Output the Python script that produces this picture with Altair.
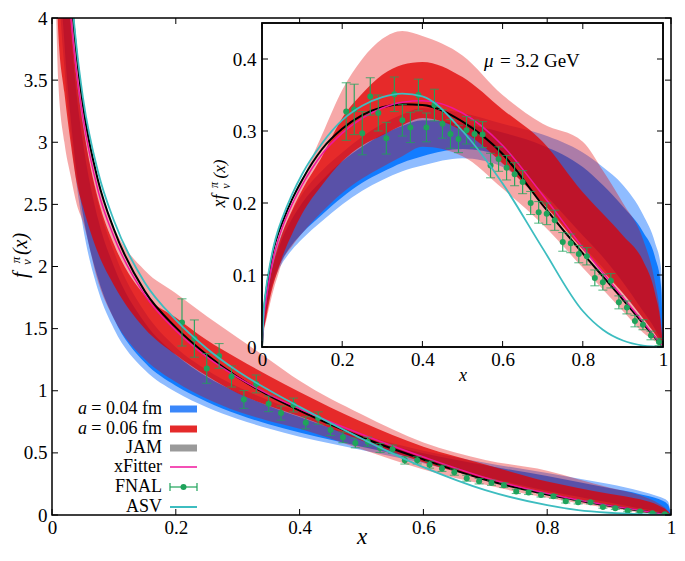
import altair as alt
import pandas as pd

# ---------------- data ----------------
X_MAIN = [0.005, 0.01, 0.02, 0.03, 0.04, 0.05, 0.075, 0.1, 0.15, 0.2, 0.25, 0.3,
          0.35, 0.4, 0.5, 0.6, 0.7, 0.8, 0.85, 0.9, 0.95, 0.98, 0.995, 1.0]
X_INSET = [0.0, 0.005, 0.01, 0.02, 0.03, 0.04, 0.05, 0.075, 0.1, 0.15, 0.2, 0.25, 0.3,
           0.35, 0.4, 0.5, 0.6, 0.7, 0.8, 0.85, 0.9, 0.95, 0.98, 0.995, 1.0]

# main panel f_v(x): a=0.04 fm (outer/inner), a=0.06 fm (outer/inner)
M_BO_LO = [5.6, 4.5, 3.6, 3.07, 2.65, 2.32, 1.8, 1.5, 1.167, 0.99, 0.868, 0.773, 0.697, 0.63, 0.524, 0.417, 0.286, 0.175, 0.129, 0.083, 0.042, 0.018, 0.005, 0]
M_BO_HI = [9.2, 6.8, 5.1, 4.167, 3.575, 3.16, 2.507, 2.12, 1.633, 1.35, 1.168, 1.033, 0.923, 0.83, 0.65, 0.517, 0.421, 0.338, 0.294, 0.25, 0.194, 0.148, 0.11, 0]
M_BI_LO = [6.0, 4.8, 3.8, 3.2, 2.75, 2.42, 1.893, 1.58, 1.227, 1.04, 0.912, 0.81, 0.731, 0.663, 0.55, 0.442, 0.307, 0.194, 0.147, 0.1, 0.053, 0.026, 0.008, 0]
M_BI_HI = [8.4, 6.2, 4.75, 3.933, 3.375, 3.0, 2.373, 2.0, 1.547, 1.29, 1.112, 0.983, 0.877, 0.788, 0.62, 0.497, 0.4, 0.313, 0.265, 0.217, 0.168, 0.128, 0.085, 0]
M_RO_LO = [4.4, 3.5, 3.0, 2.733, 2.5, 2.36, 1.867, 1.58, 1.253, 1.07, 0.936, 0.833, 0.757, 0.695, 0.53, 0.367, 0.243, 0.138, 0.094, 0.056, 0.021, 0.008, 0.002, 0]
M_RO_HI = [8.4, 6.4, 5.0, 4.267, 3.75, 3.34, 2.667, 2.32, 1.967, 1.785, 1.6, 1.427, 1.254, 1.08, 0.81, 0.583, 0.443, 0.356, 0.288, 0.222, 0.158, 0.092, 0.035, 0]
M_RI_LO = [5.2, 3.9, 3.4, 3.0, 2.675, 2.48, 2.1, 1.85, 1.5, 1.29, 1.12, 0.98, 0.88, 0.795, 0.6, 0.425, 0.286, 0.169, 0.124, 0.083, 0.042, 0.018, 0.005, 0]
M_RI_HI = [7.6, 5.8, 4.65, 4.0, 3.5, 3.14, 2.533, 2.18, 1.767, 1.59, 1.408, 1.26, 1.12, 0.99, 0.75, 0.55, 0.407, 0.269, 0.218, 0.172, 0.126, 0.077, 0.03, 0]
M_JAM = [9.0, 6.9, 5.1, 4.25, 3.7, 3.3, 2.68, 2.3, 1.8, 1.51, 1.29, 1.11, 0.963, 0.84, 0.626, 0.447, 0.283, 0.165, 0.117, 0.074, 0.035, 0.013, 0.003, 0]
M_XF = [8.4, 6.5, 4.9, 4.05, 3.55, 3.2, 2.6, 2.24, 1.77, 1.485, 1.272, 1.107, 0.971, 0.855, 0.65, 0.467, 0.301, 0.173, 0.121, 0.077, 0.037, 0.014, 0.004, 0]
M_ASV = [9.4, 7.1, 5.2, 4.3, 3.75, 3.36, 2.75, 2.37, 1.87, 1.57, 1.34, 1.157, 1.006, 0.87, 0.615, 0.385, 0.2, 0.08, 0.04, 0.018, 0.006, 0.002, 0, 0]

# inset x f_v(x)
I_BO_LO = [0, 0.028, 0.045, 0.072, 0.092, 0.106, 0.116, 0.135, 0.15, 0.175, 0.198, 0.217, 0.232, 0.244, 0.252, 0.262, 0.25, 0.2, 0.14, 0.11, 0.075, 0.04, 0.018, 0.005, 0]
I_BO_HI = [0, 0.046, 0.068, 0.102, 0.125, 0.143, 0.158, 0.188, 0.212, 0.245, 0.27, 0.292, 0.31, 0.323, 0.332, 0.325, 0.31, 0.295, 0.27, 0.25, 0.225, 0.184, 0.145, 0.11, 0]
I_BI_LO = [0, 0.03, 0.048, 0.076, 0.096, 0.11, 0.121, 0.142, 0.158, 0.184, 0.208, 0.228, 0.243, 0.256, 0.265, 0.275, 0.265, 0.215, 0.155, 0.125, 0.09, 0.05, 0.025, 0.008, 0]
I_BI_HI = [0, 0.042, 0.062, 0.095, 0.118, 0.135, 0.15, 0.178, 0.2, 0.232, 0.258, 0.278, 0.295, 0.307, 0.315, 0.31, 0.298, 0.28, 0.25, 0.225, 0.195, 0.16, 0.125, 0.085, 0]
I_RO_LO = [0, 0.022, 0.035, 0.06, 0.082, 0.1, 0.118, 0.14, 0.158, 0.188, 0.214, 0.234, 0.25, 0.265, 0.278, 0.265, 0.22, 0.17, 0.11, 0.08, 0.05, 0.02, 0.008, 0.002, 0]
I_RO_HI = [0, 0.042, 0.064, 0.1, 0.128, 0.15, 0.167, 0.2, 0.232, 0.295, 0.357, 0.4, 0.428, 0.439, 0.432, 0.405, 0.35, 0.31, 0.285, 0.245, 0.2, 0.15, 0.09, 0.035, 0]
I_RI_LO = [0, 0.026, 0.039, 0.068, 0.09, 0.107, 0.124, 0.157, 0.185, 0.225, 0.258, 0.28, 0.294, 0.308, 0.318, 0.3, 0.255, 0.2, 0.135, 0.105, 0.075, 0.04, 0.018, 0.005, 0]
I_RI_HI = [0, 0.038, 0.058, 0.093, 0.12, 0.14, 0.157, 0.19, 0.218, 0.265, 0.318, 0.352, 0.378, 0.392, 0.396, 0.375, 0.33, 0.285, 0.215, 0.185, 0.155, 0.12, 0.075, 0.03, 0]
I_JAM = [0, 0.05, 0.075, 0.11, 0.138, 0.157, 0.172, 0.205, 0.232, 0.275, 0.303, 0.322, 0.333, 0.337, 0.336, 0.313, 0.268, 0.197, 0.13, 0.098, 0.066, 0.033, 0.013, 0.003, 0]
I_XF = [0, 0.042, 0.065, 0.1, 0.128, 0.148, 0.165, 0.198, 0.225, 0.268, 0.297, 0.318, 0.332, 0.34, 0.342, 0.325, 0.28, 0.211, 0.138, 0.103, 0.069, 0.035, 0.014, 0.004, 0]
I_ASV = [0, 0.055, 0.08, 0.115, 0.142, 0.162, 0.178, 0.212, 0.24, 0.283, 0.315, 0.335, 0.347, 0.352, 0.348, 0.3, 0.227, 0.137, 0.05, 0.024, 0.009, 0.002, 0.0005, 0, 0]

# FNAL data
FNAL_X = [0.21, 0.23, 0.25, 0.27, 0.29, 0.31, 0.33, 0.35, 0.37, 0.39, 0.41, 0.43, 0.45, 0.47,
          0.49, 0.51, 0.53, 0.55, 0.57, 0.59, 0.61, 0.63, 0.65, 0.67, 0.69, 0.71, 0.73, 0.75,
          0.77, 0.79, 0.81, 0.83, 0.85, 0.87, 0.89, 0.91, 0.93, 0.95, 0.97, 0.99]
FNAL_F = [1.55, 1.42, 1.18, 1.28, 1.115, 0.93, 1.055, 0.895, 0.82, 0.885, 0.742, 0.78, 0.685, 0.625,
          0.58, 0.59, 0.54, 0.53, 0.44, 0.44, 0.405, 0.375, 0.345, 0.296, 0.272, 0.26, 0.24, 0.19,
          0.182, 0.16, 0.15, 0.11, 0.102, 0.102, 0.065, 0.055, 0.035, 0.028, 0.014, 0.006]
FNAL_FERR = [0.19, 0.15, 0.12, 0.10, 0.085, 0.072, 0.072, 0.063, 0.057, 0.056, 0.049, 0.05, 0.045, 0.043,
             0.039, 0.037, 0.036, 0.033, 0.03, 0.029, 0.028, 0.025, 0.025, 0.024, 0.022, 0.021, 0.019, 0.017,
             0.017, 0.015, 0.015, 0.013, 0.013, 0.011, 0.01, 0.01, 0.009, 0.007, 0.006, 0.005]
FNAL_XF = [0.327, 0.330, 0.297, 0.348, 0.325, 0.290, 0.351, 0.315, 0.305, 0.350, 0.305, 0.336, 0.310, 0.296,
           0.289, 0.301, 0.296, 0.295, 0.252, 0.261, 0.249, 0.240, 0.229, 0.200, 0.187, 0.185, 0.176, 0.146,
           0.144, 0.129, 0.126, 0.096, 0.090, 0.092, 0.062, 0.055, 0.036, 0.031, 0.016, 0.007]
FNAL_XFERR = [0.040, 0.035, 0.030, 0.026, 0.025, 0.022, 0.024, 0.022, 0.021, 0.022, 0.020, 0.022, 0.020, 0.020,
              0.019, 0.019, 0.019, 0.018, 0.017, 0.017, 0.017, 0.016, 0.016, 0.016, 0.015, 0.015, 0.014, 0.013,
              0.013, 0.012, 0.012, 0.011, 0.011, 0.010, 0.009, 0.009, 0.008, 0.007, 0.006, 0.005]

MAIN_XTICKS = [0, 0.2, 0.4, 0.6, 0.8, 1.0]
MAIN_YTICKS = [0, 0.5, 1, 1.5, 2, 2.5, 3, 3.5, 4]
INSET_XTICKS = [0, 0.2, 0.4, 0.6, 0.8, 1.0]
INSET_YTICKS = [0, 0.1, 0.2, 0.3, 0.4]

LEGEND_LABELS = ["= 0.04 fm", "= 0.06 fm", "JAM", "xFitter", "FNAL", "ASV"]

# ---------------- styling / layout ----------------
W, H = 619, 497
IX0, IX1 = 210, 611   # inset plot range (pixels inside main view)
IY0, IY1 = 329, 5
FONT = "Liberation Serif"
C_BO, C_BI = "#8fbcff", "#127cff"
C_RO, C_RI = "#e50000", "#e00000"
A_RO, A_RI = 0.34, 0.75
C_XF, C_ASV, C_FN = "#f0169c", "#3dbdc0", "#1fa35b"

main_xs = alt.Scale(domain=[0, 1], nice=False)
main_ys = alt.Scale(domain=[0, 4], nice=False)
ins_xs = alt.Scale(domain=[0, 1], nice=False, range=[IX0, IX1])
ins_ys = alt.Scale(domain=[0, 0.45], nice=False, range=[IY0, IY1])

MAIN_XAXIS = alt.Axis(values=MAIN_XTICKS, format="~g", ticks=False, tickSize=0, domain=False, grid=False,
                      labelFont=FONT, labelFontSize=19, labelPadding=3, labelFlush=False, labelColor="black",
                      title="x", titleFont=FONT, titleFontStyle="italic", titleFontWeight="normal",
                      titleFontSize=23, titleY=28, titleBaseline="alphabetic", titleColor="black")
MAIN_YAXIS = alt.Axis(values=MAIN_YTICKS, format="~g", ticks=False, tickSize=0, domain=False, grid=False,
                      labelFont=FONT, labelFontSize=19, labelPadding=5, labelColor="black", title=None)
INS_XAXIS = alt.Axis(orient="bottom", offset=-(H - IY0), values=INSET_XTICKS, format="~g", ticks=False,
                     tickSize=0, domain=False, grid=False, labelFont=FONT, labelFontSize=19, labelPadding=3,
                     labelFlush=False, labelColor="black", title="x", titleFont=FONT, titleFontStyle="italic",
                     titleFontWeight="normal", titleFontSize=18, titleY=33, titleBaseline="alphabetic",
                     titleColor="black", zindex=2)
INS_YAXIS = alt.Axis(orient="left", offset=-IX0, values=INSET_YTICKS, format="~g", ticks=False, tickSize=0,
                     domain=False, grid=False, labelFont=FONT, labelFontSize=19, labelPadding=6,
                     labelColor="black", title=None, zindex=2)


def mx(f="x"):
    return alt.X(f"{f}:Q", scale=main_xs, axis=MAIN_XAXIS)


def my(f):
    return alt.Y(f"{f}:Q", scale=main_ys, axis=MAIN_YAXIS)


def ix(f="x"):
    return alt.X(f"{f}:Q", scale=ins_xs, axis=INS_XAXIS)


def iy(f):
    return alt.Y(f"{f}:Q", scale=ins_ys, axis=INS_YAXIS)


ONE = pd.DataFrame({"d": [0]})


def band(xs, lo, hi, color, opacity, X, Y, clip):
    df = pd.DataFrame({"x": xs, "lo": lo, "hi": hi})
    return alt.Chart(df).mark_area(color=color, opacity=opacity, interpolate="monotone", clip=clip).encode(
        x=X(), y=Y("lo"), y2="hi:Q")


def curve(xs, ys, color, width, X, Y, clip):
    df = pd.DataFrame({"x": xs, "f": ys})
    return alt.Chart(df).mark_line(color=color, strokeWidth=width, interpolate="monotone", clip=clip).encode(
        x=X(), y=Y("f"))


def fnal(xs, vals, errs, X, Y, clip):
    df = pd.DataFrame({"x": xs, "f": vals, "e": errs})
    base = alt.Chart(df).transform_calculate(lo="datum.f - datum.e", hi="datum.f + datum.e")
    bars = base.mark_rule(color=C_FN, strokeWidth=1.1, clip=clip).encode(x=X(), y=Y("lo"), y2="hi:Q")
    cap1 = base.mark_tick(color=C_FN, orient="horizontal", size=9, thickness=1.1, clip=clip).encode(x=X(), y=Y("lo"))
    cap2 = base.mark_tick(color=C_FN, orient="horizontal", size=9, thickness=1.1, clip=clip).encode(x=X(), y=Y("hi"))
    pts = base.mark_circle(color=C_FN, size=36, opacity=1, clip=clip).encode(x=X(), y=Y("f"))
    return [bars, cap1, cap2, pts]


def txt(text, x, y, size=18, italic=False, align="left", angle=0):
    kw = dict(text=text, font=FONT, fontSize=size, color="black", align=align, baseline="middle")
    if italic:
        kw["fontStyle"] = "italic"
    if angle:
        kw["angle"] = angle
    return alt.Chart(ONE).mark_text(**kw).encode(x=alt.value(x), y=alt.value(y))


def hrule(x1, x2, y, color, width):
    return alt.Chart(ONE).mark_rule(color=color, strokeWidth=width).encode(
        x=alt.value(x1), x2=alt.value(x2), y=alt.value(y))


def vrule(x, y1, y2, color, width):
    return alt.Chart(ONE).mark_rule(color=color, strokeWidth=width).encode(
        x=alt.value(x), y=alt.value(y1), y2=alt.value(y2))


# ---------------- main panel ----------------
main_layers = [
    band(X_MAIN, M_BO_LO, M_BO_HI, C_BO, 1.0, mx, my, True),
    band(X_MAIN, M_BI_LO, M_BI_HI, C_BI, 1.0, mx, my, True),
    band(X_MAIN, M_RO_LO, M_RO_HI, C_RO, A_RO, mx, my, True),
    band(X_MAIN, M_RI_LO, M_RI_HI, C_RI, A_RI, mx, my, True),
    curve(X_MAIN, M_JAM, "black", 2, mx, my, True),
    curve(X_MAIN, M_XF, C_XF, 1.5, mx, my, True),
]
main_layers += fnal(FNAL_X, FNAL_F, FNAL_FERR, mx, my, True)
main_layers.append(curve(X_MAIN, M_ASV, C_ASV, 1.8, mx, my, True))

xt = pd.DataFrame({"x": MAIN_XTICKS})
yt = pd.DataFrame({"v": MAIN_YTICKS})
main_layers += [
    alt.Chart(xt).mark_rule(color="black").encode(x=mx(), y=alt.value(H), y2=alt.value(H - 6)),
    alt.Chart(xt).mark_rule(color="black").encode(x=mx(), y=alt.value(0), y2=alt.value(6)),
    alt.Chart(yt).mark_rule(color="black").encode(y=my("v"), x=alt.value(0), x2=alt.value(6)),
    alt.Chart(yt).mark_rule(color="black").encode(y=my("v"), x=alt.value(W), x2=alt.value(W - 6)),
    alt.Chart(ONE).mark_rect(fill="transparent", stroke="black", strokeWidth=1.5).encode(
        x=alt.value(0), x2=alt.value(W), y=alt.value(0), y2=alt.value(H)),
]

# legend
rows = [391, 411, 430, 449, 469, 489]
LX0, LX1, LT = 118, 145, 110
for lab, ry in zip(LEGEND_LABELS, rows):
    main_layers.append(txt(lab, LT, ry, size=18, align="right"))
main_layers.append(txt("a", 26, rows[0], size=18, italic=True))
main_layers.append(txt("a", 26, rows[1], size=18, italic=True))
main_layers += [
    hrule(LX0, LX1, rows[0], "#3a87fa", 7),
    hrule(LX0, LX1, rows[1], "#e52a2a", 7),
    hrule(LX0, LX1, rows[2], "#9a9a9a", 7),
    hrule(LX0, LX1, rows[3], C_XF, 1.5),
    hrule(LX0, LX1, rows[4], C_FN, 1.2),
    vrule(LX0, rows[4] - 4, rows[4] + 4, C_FN, 1.2),
    vrule(LX1, rows[4] - 4, rows[4] + 4, C_FN, 1.2),
    alt.Chart(ONE).mark_circle(color=C_FN, size=36, opacity=1).encode(
        x=alt.value((LX0 + LX1) / 2), y=alt.value(rows[4])),
    hrule(LX0, LX1, rows[5], C_ASV, 2),
]

# main y title  f_v^pi(x)
main_layers += [
    txt("f", -31, 257, size=21, italic=True, align="center", angle=270),
    txt("π", -36, 242, size=13, italic=True, align="center", angle=270),
    txt("v", -25, 244, size=13, italic=True, align="center", angle=270),
    txt("(x)", -31, 226, size=20, italic=True, align="center", angle=270),
]

main = alt.layer(*main_layers)

# ---------------- inset ----------------
frame_df = pd.DataFrame({"x": [0.0], "x1": [1.0], "y0": [0.0], "y1": [0.45]})
ins_layers = [
    alt.Chart(frame_df).mark_rect(fill="white", stroke="black", strokeWidth=1.5).encode(
        x=ix(), x2="x1:Q", y=iy("y0"), y2="y1:Q"),
    band(X_INSET, I_BO_LO, I_BO_HI, C_BO, 1.0, ix, iy, False),
    band(X_INSET, I_BI_LO, I_BI_HI, C_BI, 1.0, ix, iy, False),
    band(X_INSET, I_RO_LO, I_RO_HI, C_RO, A_RO, ix, iy, False),
    band(X_INSET, I_RI_LO, I_RI_HI, C_RI, A_RI, ix, iy, False),
    curve(X_INSET, I_JAM, "black", 2, ix, iy, False),
    curve(X_INSET, I_XF, C_XF, 1.5, ix, iy, False),
]
ins_layers += fnal(FNAL_X, FNAL_XF, FNAL_XFERR, ix, iy, False)
ins_layers.append(curve(X_INSET, I_ASV, C_ASV, 1.8, ix, iy, False))

ixt = pd.DataFrame({"x": INSET_XTICKS})
iyt = pd.DataFrame({"v": INSET_YTICKS})
ins_layers += [
    alt.Chart(ixt).mark_rule(color="black").encode(x=ix(), y=alt.value(IY0), y2=alt.value(IY0 - 6)),
    alt.Chart(ixt).mark_rule(color="black").encode(x=ix(), y=alt.value(IY1), y2=alt.value(IY1 + 6)),
    alt.Chart(iyt).mark_rule(color="black").encode(y=iy("v"), x=alt.value(IX0), x2=alt.value(IX0 + 6)),
    alt.Chart(iyt).mark_rule(color="black").encode(y=iy("v"), x=alt.value(IX1), x2=alt.value(IX1 - 6)),
    alt.Chart(frame_df).mark_rect(fill="transparent", stroke="black", strokeWidth=1.5).encode(
        x=ix(), x2="x1:Q", y=iy("y0"), y2="y1:Q"),
    txt("μ", 432, 43, size=19, italic=True),
    txt("= 3.2 GeV", 448, 43, size=19),
    txt("xf", 168, 183, size=18, italic=True, align="center", angle=270),
    txt("π", 162, 167, size=12, italic=True, align="center", angle=270),
    txt("v", 174, 168, size=12, italic=True, align="center", angle=270),
    txt("(x)", 168, 151, size=17, italic=True, align="center", angle=270),
]
inset = alt.layer(*ins_layers)

chart = alt.layer(main, inset).resolve_scale(x="independent", y="independent").properties(
    width=W, height=H,
    padding={"left": 44, "top": 10, "right": 6, "bottom": 33},
    autosize=alt.AutoSizeParams(type="none"),
    background="white",
).configure_view(stroke=None)

chart.save("out.html", embed_options={"renderer": "svg", "actions": False})
